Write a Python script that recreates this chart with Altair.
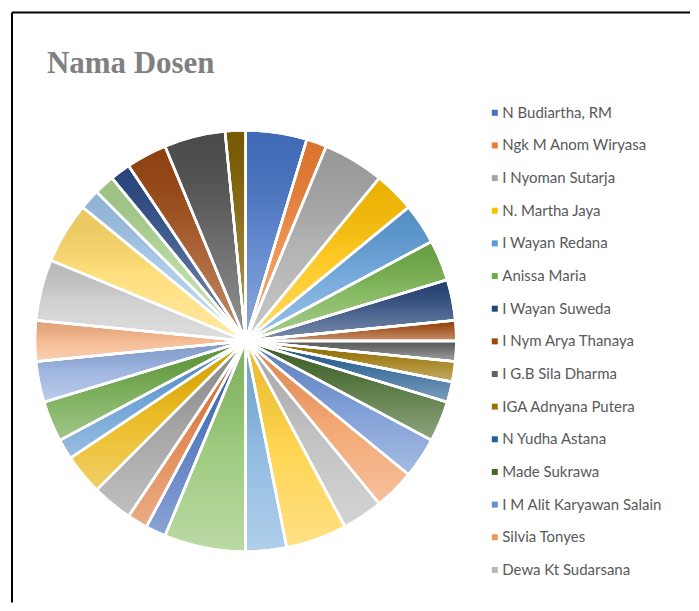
import altair as alt
import pandas as pd

names = [
    "N Budiartha, RM", "Ngk M Anom Wiryasa", "I Nyoman Sutarja", "N. Martha Jaya",
    "I Wayan Redana", "Anissa Maria", "I Wayan Suweda", "I Nym Arya Thanaya",
    "I G.B Sila Dharma", "IGA Adnyana Putera", "N Yudha Astana", "Made Sukrawa",
    "I M Alit Karyawan Salain", "Silvia Tonyes", "Dewa Kt Sudarsana",
    "Dosen 16", "Dosen 17", "Dosen 18", "Dosen 19", "Dosen 20", "Dosen 21",
    "Dosen 22", "Dosen 23", "Dosen 24", "Dosen 25", "Dosen 26", "Dosen 27",
    "Dosen 28", "Dosen 29", "Dosen 30", "Dosen 31", "Dosen 32", "Dosen 33", "Dosen 34",
]
values = [3, 1, 3, 2, 2, 2, 2, 1, 1, 1, 1, 2, 2, 2, 2, 3, 2, 4,
          1, 1, 2, 2, 1, 2, 2, 2, 3, 3, 1, 1, 1, 2, 3, 1]
colors = [
    "#4472C4", "#ED7D31", "#A5A5A5", "#FFC000", "#5B9BD5", "#70AD47",
    "#264478", "#9E480E", "#636363", "#997300", "#255E91", "#43682B",
    "#698ED0", "#F1975A", "#B7B7B7", "#FFCD33", "#7CAFDD", "#8CC168",
    "#3E67B8", "#DE7536", "#969696", "#E8B000", "#5793CF", "#64A03E",
    "#8FAADC", "#F4B183", "#C9C9C9", "#FFD966", "#9DC3E6", "#A9D18E",
    "#2B4A85", "#9A4510", "#505050", "#806000",
]
legend_names = names[:15]
title_text = "Nama Dosen"

df = pd.DataFrame({"name": names, "value": values, "idx": list(range(len(names)))})
one = pd.DataFrame({"t": [title_text]})

W, H = 683, 595
CX, CY, R = 238, 333, 211

base = alt.Chart(df).encode(
    theta=alt.Theta("value:Q", stack=True),
    order=alt.Order("idx:Q"),
)

pie = base.mark_arc(radius=R, stroke="white", strokeWidth=2.5).encode(
    x=alt.value(CX), y=alt.value(CY),
    color=alt.Color(
        "name:N",
        scale=alt.Scale(domain=names, range=colors),
        sort=names,
        legend=alt.Legend(
            title=None, values=legend_names, orient="none",
            legendX=480, legendY=97, symbolType="square", symbolSize=36,
            symbolStrokeWidth=0, labelFont="Lato", labelFontSize=15,
            labelColor="#595959", rowPadding=16.7, labelOffset=0,
            labelLimit=300,
        ),
    ),
)

shade = base.mark_arc(
    radius=R, stroke="white", strokeWidth=2.5,
    color=alt.LinearGradient(
        gradient="linear",
        stops=[
            alt.GradientStop(color="rgba(0,0,0,0.08)", offset=0),
            alt.GradientStop(color="rgba(255,255,255,0.15)", offset=0.5),
            alt.GradientStop(color="rgba(255,255,255,0.4)", offset=1),
        ],
        x1=0, x2=0, y1=0, y2=1,
    ),
).encode(x=alt.value(CX), y=alt.value(CY))

title = alt.Chart(one).mark_text(
    font="Liberation Serif", fontWeight="bold", fontSize=31,
    color="#808080", align="left", baseline="alphabetic",
).encode(x=alt.value(39), y=alt.value(65), text="t:N")

left_rule = alt.Chart(one).mark_rule(color="black", strokeWidth=2).encode(
    x=alt.value(4), y=alt.value(4), y2=alt.value(H)
)
top_rule = alt.Chart(one).mark_rule(color="black", strokeWidth=2).encode(
    x=alt.value(4), x2=alt.value(W), y=alt.value(4)
)

chart = alt.layer(pie, shade, title, left_rule, top_rule).properties(
    width=W, height=H, padding=0, background="white"
).configure_view(stroke=None)

chart.save("out.html", embed_options={"renderer": "svg", "actions": False})
